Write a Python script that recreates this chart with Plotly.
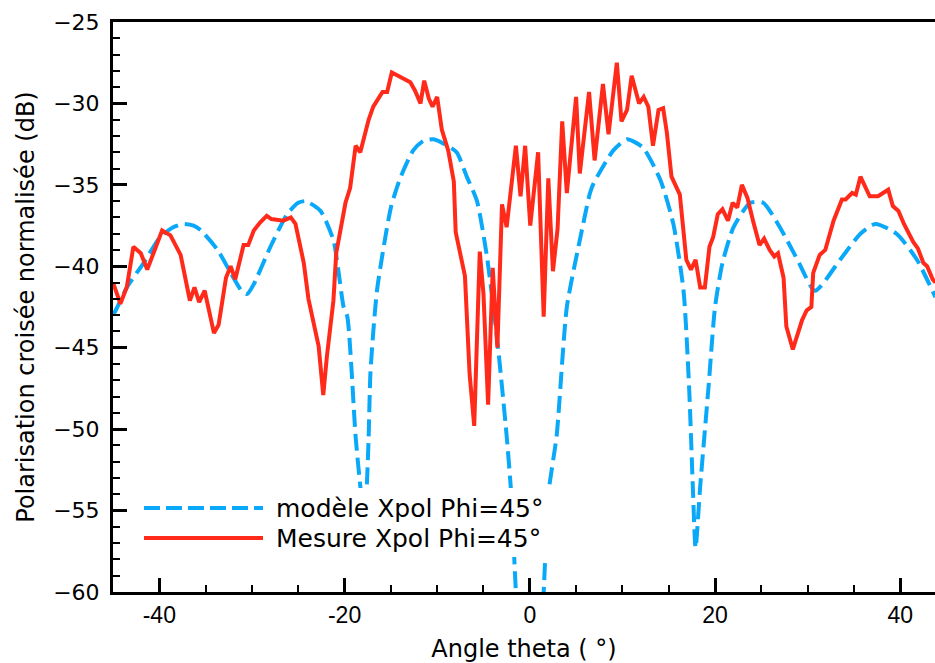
import plotly.graph_objects as go

# model (blue dashed) - angle in degrees, level in dB
model_theta = [-45.0, -44.7, -43.5, -41.7, -39.9, -38.5, -37.4, -36.3, -35.5, -33.7,
               -32.3, -31.0, -30.5, -29.8, -28.0, -26.2, -25.0, -24.2, -22.6, -21.2,
               -20.1, -19.7, -18.8, -18.3, -17.9, -17.6, -17.4, -17.2, -16.5, -15.0,
               -14.0, -12.6, -11.5, -10.4, -9.2, -7.9, -6.8, -5.7, -4.6, -3.5,
               -2.5, -2.0, -1.5, -1.0, 0.0, 1.0, 1.5, 2.0, 2.9, 4.0,
               5.4, 6.5, 6.9, 9.0, 10.5, 12.2, 14.1, 15.5, 16.6, 17.2,
               17.6, 17.9, 18.4, 19.3, 20.0, 20.8, 22.0, 23.8, 25.2, 27.0,
               28.9, 30.8, 33.5, 35.7, 37.3, 39.6, 41.8, 43.8]
model_db = [-43.0, -42.7, -41.3, -39.8, -38.2, -37.6, -37.4, -37.5, -37.8, -39.0,
            -40.4, -41.6, -41.7, -41.1, -38.8, -36.8, -36.1, -36.0, -36.6, -38.4,
            -42.5, -43.1, -50.5, -53.5, -55.5, -53.5, -50.5, -46.5, -41.5, -36.4,
            -34.6, -32.9, -32.3, -32.2, -32.5, -33.0, -34.5, -36.0, -39.5, -44.6,
            -50.4, -54.0, -60.0, -64.0, -70.0, -64.0, -60.0, -54.0, -50.4, -42.5,
            -38.4, -35.5, -34.9, -32.9, -32.2, -32.7, -34.7, -37.4, -41.5, -47.4,
            -53.5, -57.3, -53.5, -47.4, -42.5, -39.8, -37.6, -36.1, -36.1, -37.6,
            -39.6, -41.5, -39.6, -38.0, -37.4, -38.0, -39.6, -41.9]

# measurement (red solid)
mes_theta = [-45.0, -44.2, -43.5, -42.8, -42.0, -41.3, -39.7, -38.8, -37.7, -36.7,
             -36.2, -35.7, -35.1, -34.1, -33.6, -32.8, -32.3, -31.8, -30.9, -30.4,
             -29.8, -29.1, -28.4, -27.9, -26.6, -25.8, -25.3, -24.4, -23.9, -22.8,
             -22.3, -21.9, -21.2, -20.9, -19.9, -19.4, -18.8, -18.3, -17.4, -16.9,
             -15.9, -15.4, -14.9, -14.0, -12.9, -12.4, -11.8, -11.4, -10.9, -10.5,
             -10.0, -9.5, -8.8, -8.2, -8.0, -7.0, -6.5, -6.0, -5.4, -5.0,
             -4.5, -4.0, -3.5, -3.0, -2.5, -1.5, -1.0, -0.5, 0.05, 0.9,
             1.5, 2.0, 2.5, 3.0, 3.5, 4.0, 5.0, 5.4, 6.4, 7.0,
             7.9, 8.5, 9.4, 9.9, 10.5, 11.0, 11.8, 12.3, 12.8, 13.3,
             13.9, 14.4, 14.8, 15.3, 16.2, 16.9, 17.4, 17.9, 18.4, 18.9,
             19.4, 19.8, 20.3, 20.8, 21.4, 21.9, 22.4, 22.9, 23.5, 24.1,
             24.8, 25.3, 25.9, 26.4, 26.8, 27.4, 27.7, 28.4, 28.8, 29.4,
             29.9, 30.4, 30.6, 31.3, 31.9, 32.8, 33.7, 34.1, 34.8, 35.2,
             35.7, 36.7, 37.6, 38.7, 39.2, 39.8, 40.4, 41.4, 41.9, 42.5,
             42.9, 43.5, 43.8]
mes_db = [-41.0, -42.3, -41.25, -38.8, -39.2, -40.2, -37.8, -38.1, -39.3, -42.1,
          -41.3, -42.2, -41.5, -44.1, -43.6, -40.7, -40.0, -40.8, -38.7, -38.7,
          -37.8, -37.3, -36.9, -37.1, -37.2, -37.0, -37.4, -39.8, -42.0, -44.9,
          -47.9, -45.5, -42.1, -39.2, -36.1, -35.2, -32.6, -33.0, -31.0, -30.2,
          -29.3, -29.3, -28.1, -28.4, -28.7, -29.2, -30.0, -28.6, -29.7, -30.2,
          -29.6, -31.6, -32.9, -34.8, -37.9, -40.6, -46.6, -49.8, -39.1, -41.7,
          -48.5, -40.1, -45.0, -36.2, -37.6, -32.6, -35.7, -32.6, -37.5, -33.0,
          -43.1, -34.6, -40.3, -37.7, -31.1, -35.5, -29.6, -34.3, -29.3, -33.5,
          -28.8, -31.9, -27.5, -31.1, -30.4, -28.3, -30.0, -29.6, -30.2, -32.6,
          -30.4, -30.3, -31.8, -34.5, -35.6, -39.6, -40.2, -39.6, -41.3, -41.3,
          -38.8, -38.2, -36.8, -36.5, -37.2, -36.1, -36.4, -35.0, -35.8, -37.2,
          -38.7, -38.3, -39.0, -39.4, -39.2, -40.7, -43.7, -45.1, -44.3, -43.3,
          -42.7, -42.5, -40.4, -39.3, -39.0, -37.2, -35.9, -35.9, -35.5, -35.6,
          -34.5, -35.7, -35.7, -35.3, -36.3, -36.6, -37.4, -38.5, -38.9, -39.8,
          -40.0, -40.8, -41.0]

x_tickvals = [-40, -20, 0, 20, 40]
x_ticktext = ["-40", "-20", "0", "20", "40"]

blue = "#0aa8f8"
red = "#ff2a1a"
font = "DejaVu Sans"

fig = go.Figure()
fig.add_trace(go.Scatter(x=model_theta, y=model_db, mode="lines",
                         name="modèle Xpol Phi=45°",
                         line=dict(color=blue, width=4, dash="17px,7px", shape="spline", smoothing=0.6)))
fig.add_trace(go.Scatter(x=mes_theta, y=mes_db, mode="lines",
                         name="Mesure Xpol Phi=45°",
                         line=dict(color=red, width=4)))

fig.update_layout(
    width=935, height=663,
    margin=dict(l=113, r=0, t=22, b=71),
    plot_bgcolor="white", paper_bgcolor="white",
    showlegend=False,
    font=dict(family=font, color="black", size=21),
)
fig.update_xaxes(
    automargin=False,
    range=[-45, 43.75], tickvals=x_tickvals, ticktext=x_ticktext,
    ticks="inside", ticklen=14, tickwidth=3, tickcolor="black",
    minor=dict(dtick=5, tick0=0, ticks="inside", ticklen=7, tickwidth=2, tickcolor="black"),
    showline=True, linewidth=3, linecolor="black", mirror=True,
    showgrid=False, zeroline=False,
    tickfont=dict(family="Liberation Sans Narrow, Arial Narrow, sans-serif", size=23),
    title=dict(text="Angle theta ( °)", font=dict(size=24), standoff=14),
)
fig.update_yaxes(
    automargin=False,
    range=[-60, -25], dtick=5, tick0=-60,
    ticks="inside", ticklen=14, tickwidth=3, tickcolor="black",
    minor=dict(dtick=1, ticks="inside", ticklen=7, tickwidth=2, tickcolor="black"),
    showline=True, linewidth=3, linecolor="black",
    showgrid=False, zeroline=False,
    tickfont=dict(size=22), ticklabelstandoff=6,
    title=dict(text="Polarisation croisée normalisée (dB)", font=dict(size=24), standoff=12),
)

# legend drawn by hand (long line samples on a white box)
def px(xp):
    return (xp - 113) / 822

def py(yp):
    return (592 - yp) / 570

fig.add_shape(type="rect", xref="paper", yref="paper", layer="above",
              x0=px(135), x1=px(555), y0=py(557), y1=py(488),
              fillcolor="white", line=dict(width=0))
fig.add_shape(type="line", xref="paper", yref="paper", layer="above",
              x0=px(144), x1=px(263), y0=py(508), y1=py(508),
              line=dict(color=blue, width=4, dash="16px,6px"))
fig.add_shape(type="line", xref="paper", yref="paper", layer="above",
              x0=px(144), x1=px(263), y0=py(538), y1=py(538),
              line=dict(color=red, width=4))
for yy, txt in [(508, "modèle Xpol Phi=45°"), (538, "Mesure Xpol Phi=45°")]:
    fig.add_annotation(xref="paper", yref="paper", x=px(274), y=py(yy),
                       text=txt, showarrow=False, xanchor="left", yanchor="middle",
                       font=dict(size=25))

# drop the default page margin so the figure sits at the window's corner
fig.write_html("out.html", config={"displayModeBar": False},
               post_script="document.body.style.margin='0';document.body.style.overflow='hidden';")
